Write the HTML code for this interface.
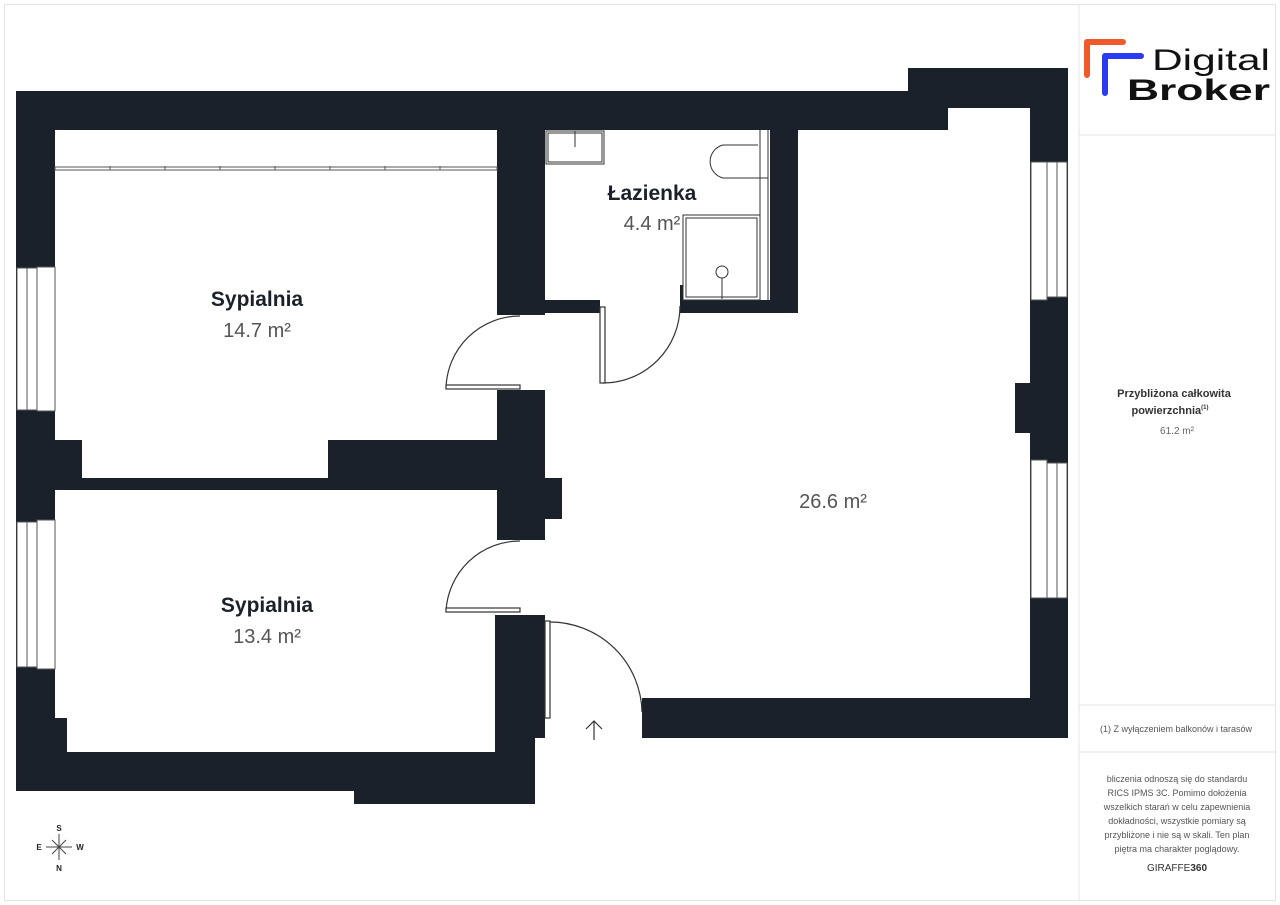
<!DOCTYPE html>
<html><head><meta charset="utf-8"><style>
html,body{margin:0;padding:0;background:#fff;}
svg{display:block}
text{font-family:"Liberation Sans","DejaVu Sans",sans-serif}
</style></head><body>
<svg width="1280" height="905" viewBox="0 0 1280 905" xmlns="http://www.w3.org/2000/svg">
<rect x="4.5" y="4.5" width="1271" height="896" fill="#fff" stroke="#e4e4e4"/>
<line x1="1079" y1="5" x2="1079" y2="900" stroke="#e4e4e4"/>
<line x1="1079" y1="135" x2="1276" y2="135" stroke="#e4e4e4"/>
<line x1="1079" y1="705" x2="1276" y2="705" stroke="#e4e4e4"/>
<line x1="1079" y1="752" x2="1276" y2="752" stroke="#e4e4e4"/>

<g fill="#1b212b">
<rect x="16" y="91" width="932" height="39"/>
<rect x="908" y="68" width="160" height="40"/>
<rect x="1030" y="68" width="38" height="670"/>
<rect x="1015" y="383" width="16" height="50"/>
<rect x="642" y="698" width="426" height="40"/>
<rect x="16" y="91" width="39" height="700"/>
<rect x="16" y="478" width="481" height="12"/>
<rect x="55" y="440" width="27" height="40"/>
<rect x="328" y="440" width="170" height="40"/>
<rect x="497" y="91" width="48" height="224"/>
<rect x="545" y="300" width="55" height="13"/>
<rect x="680" y="300" width="118" height="13"/>
<rect x="680" y="285" width="15" height="16"/>
<rect x="770" y="91" width="28" height="222"/>
<rect x="497" y="390" width="48" height="150"/>
<rect x="545" y="478" width="17" height="41"/>
<rect x="497" y="615" width="48" height="123"/>
<rect x="495" y="615" width="40" height="189"/>
<rect x="16" y="752" width="480" height="39"/>
<rect x="55" y="718" width="12" height="40"/>
<rect x="354" y="765" width="181" height="39"/>
<rect x="393" y="752" width="110" height="14"/>
</g>
<g fill="#fff" stroke="#555" stroke-width="1">
<rect x="17" y="268" width="10" height="142"/><rect x="27" y="268" width="10" height="142"/><rect x="37" y="267" width="18" height="144"/>
<rect x="17" y="522" width="10" height="145"/><rect x="27" y="522" width="10" height="145"/><rect x="37" y="520" width="18" height="149"/>
<rect x="1031" y="162" width="16" height="138"/><rect x="1047" y="162" width="10" height="135"/><rect x="1057" y="162" width="10" height="135"/>
<rect x="1031" y="460" width="16" height="138"/><rect x="1047" y="463" width="10" height="135"/><rect x="1057" y="463" width="10" height="135"/>
</g>
<g stroke="#555" fill="none">
<rect x="55" y="167" width="442" height="3" fill="#fff"/>
<line x1="110" y1="166" x2="110" y2="170"/><line x1="165" y1="166" x2="165" y2="170"/><line x1="220" y1="166" x2="220" y2="170"/><line x1="275" y1="166" x2="275" y2="170"/><line x1="330" y1="166" x2="330" y2="170"/><line x1="385" y1="166" x2="385" y2="170"/><line x1="440" y1="166" x2="440" y2="170"/>
</g>
<g stroke="#333" fill="#fff" stroke-width="1">
<rect x="546" y="131" width="58" height="33"/><rect x="548" y="133" width="54" height="29"/>
<line x1="575" y1="131" x2="575" y2="147"/>
<path d="M758,145 H723 A17,17 0 0 0 723,178 H768"/>
<line x1="760" y1="130" x2="760" y2="300"/><line x1="768" y1="130" x2="768" y2="300"/>
<rect x="683" y="215" width="77" height="85"/><rect x="686" y="218" width="71" height="79"/>
<circle cx="722" cy="272" r="6"/><line x1="722" y1="278" x2="722" y2="299"/>
</g>
<g stroke="#333" fill="none" stroke-width="1.2">
<path d="M446,388 A74,74 0 0 1 520,316"/>
<rect x="446" y="385" width="74" height="4" fill="#fff"/>
<path d="M446,611 A74,74 0 0 1 520,541"/>
<rect x="446" y="608" width="74" height="4" fill="#fff"/>
<rect x="600" y="307" width="5" height="76" fill="#fff"/>
<path d="M603,383 A77,77 0 0 0 680,306"/>
<rect x="545" y="621" width="5" height="97" fill="#fff"/>
<path d="M550,622 A92,92 0 0 1 642,712"/>
<path d="M594,740 V721 M586,729 L594,721 L602,729"/>
</g>
<g text-anchor="middle">
<text x="257" y="306" font-size="21" font-weight="bold" fill="#1b212b">Sypialnia</text>
<text x="257" y="337" font-size="20" fill="#555">14.7 m²</text>
<text x="652" y="200" font-size="21" font-weight="bold" fill="#1b212b">Łazienka</text>
<text x="652" y="230" font-size="20" fill="#555">4.4 m²</text>
<text x="833" y="508" font-size="20" fill="#555">26.6 m²</text>
<text x="267" y="612" font-size="21" font-weight="bold" fill="#1b212b">Sypialnia</text>
<text x="267" y="643" font-size="20" fill="#555">13.4 m²</text>
</g>
<g stroke="#444" stroke-width="1">
<line x1="59" y1="834" x2="59" y2="860"/><line x1="46" y1="847" x2="72" y2="847"/>
<line x1="52" y1="840" x2="66" y2="854"/><line x1="66" y1="840" x2="52" y2="854"/>
</g>
<g font-size="8" font-weight="bold" fill="#222" text-anchor="middle">
<text x="59" y="831">S</text><text x="59" y="871">N</text><text x="39" y="850">E</text><text x="80" y="850">W</text>
</g>
<path d="M1087,75 V42 H1123" stroke="#f05a2a" stroke-width="6" fill="none" stroke-linecap="round" stroke-linejoin="round"/>
<path d="M1105,93 V56 H1141" stroke="#2a3bf0" stroke-width="6" fill="none" stroke-linecap="round" stroke-linejoin="round"/>
<text x="1152" y="70" font-size="30" fill="#111" textLength="118" lengthAdjust="spacingAndGlyphs">Digital</text>
<text x="1127" y="100" font-size="30" font-weight="bold" fill="#111" textLength="143" lengthAdjust="spacingAndGlyphs">Broker</text>
<g text-anchor="middle" fill="#333">
<text x="1174" y="397" font-size="11" font-weight="bold">Przybliżona całkowita</text>
<text x="1170" y="414" font-size="11" font-weight="bold">powierzchnia<tspan font-size="6" dy="-5">(1)</tspan></text>
<text x="1177" y="434" font-size="10" fill="#666">61.2 m²</text>
<text x="1176" y="732" font-size="9" fill="#555">(1) Z wyłączeniem balkonów i tarasów</text>
<g font-size="9" fill="#555">
<text x="1177" y="782">bliczenia odnoszą się do standardu</text>
<text x="1177" y="796">RICS IPMS 3C. Pomimo dołożenia</text>
<text x="1177" y="810">wszelkich starań w celu zapewnienia</text>
<text x="1177" y="824">dokładności, wszystkie pomiary są</text>
<text x="1177" y="838">przybliżone i nie są w skali. Ten plan</text>
<text x="1177" y="852">piętra ma charakter poglądowy.</text>
</g>
<text x="1177" y="871" font-size="10" fill="#333">GIRAFFE<tspan font-weight="bold">360</tspan></text>
</g>
</svg>
</body></html>
